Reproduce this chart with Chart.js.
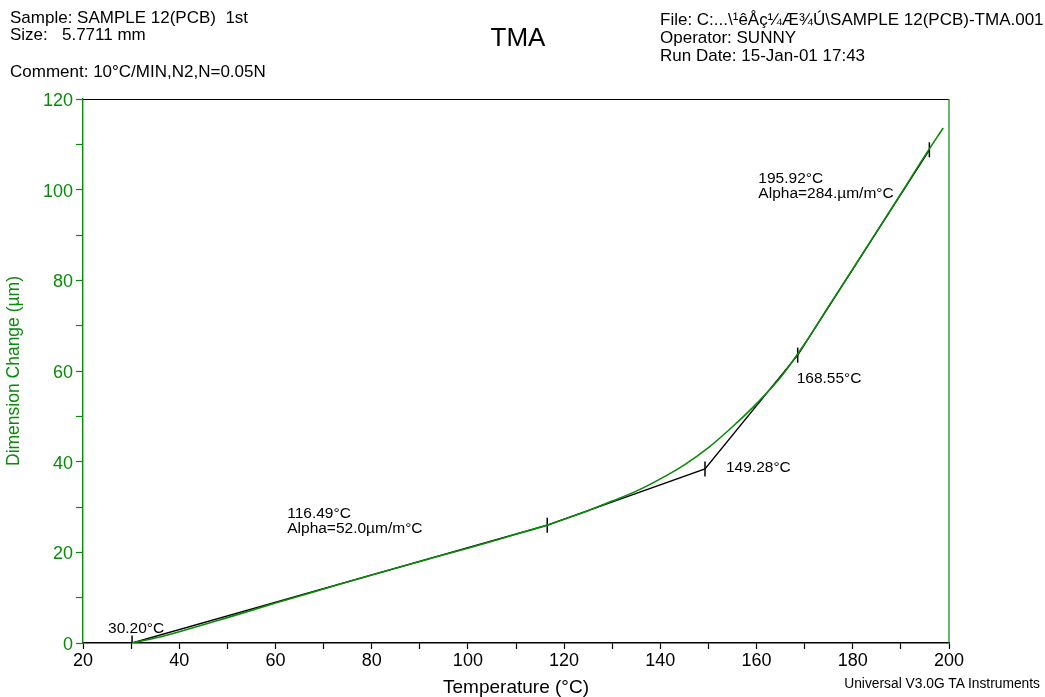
<!DOCTYPE html>
<html>
<head>
<meta charset="utf-8">
<script src="https://cdn.jsdelivr.net/npm/chart.js@4.4.1/dist/chart.umd.min.js"></script>
<style>
  html, body { margin: 0; padding: 0; background: #fff; }
  #wrap { position: relative; width: 1045px; height: 697px; font-family: "Liberation Sans", Arial, sans-serif; }
  #chart { position: absolute; left: 0; top: 0; }
  .hd { position: absolute; font-size: 17px; line-height: 17px; color: #000; white-space: pre; }
  #title { position: absolute; left: 0; width: 1036px; top: 22px; text-align: center; font-size: 26px; }
  #foot { position: absolute; right: 5px; top: 675px; font-size: 13.8px; }
</style>
</head>
<body>
<div id="wrap">
  <canvas id="chart" width="1045" height="697"></canvas>
  <div class="hd" style="left:10px; top:9px;">Sample: SAMPLE 12(PCB)  1st
Size:   5.7711 mm</div>
  <div class="hd" style="left:10px; top:63px;">Comment: 10°C/MIN,N2,N=0.05N</div>
  <div class="hd" style="left:660px; top:11px; line-height:18px;">File: C:...\¹êÅç¼Æ¾Ú\SAMPLE 12(PCB)-TMA.001
Operator: SUNNY
Run Date: 15-Jan-01 17:43</div>
  <div id="title">TMA</div>
  <div class="hd" id="foot">Universal V3.0G TA Instruments</div>
</div>
<script>
// Measured curve (temperature °C, dimension change µm)
const tempC = [30.2, 35, 40, 50, 60, 70, 80, 90, 100, 110, 116.5, 120, 125, 130, 135, 140, 145, 150, 155, 160, 165, 170, 175, 180, 185, 190, 195, 198.8];
const dimUm = [0, 1.1, 2.5, 5.6, 8.8, 11.9, 15.0, 18.0, 20.9, 24.0, 26.0, 27.3, 29.2, 31.3, 33.5, 36.2, 39.3, 43.1, 47.7, 52.8, 58.6, 66.0, 74.3, 82.5, 90.8, 99.1, 107.5, 113.6];

// Analysis construction lines / onset points
const fitT = [30.2, 116.49, 149.28, 168.55, 195.92];
const fitD = [0, 26.0, 38.4, 63.5, 108.8];

// Annotation texts, attached to the fit points above
const noteText = [
  ['30.20°C'],
  ['116.49°C', 'Alpha=52.0µm/m°C'],
  ['149.28°C'],
  ['168.55°C'],
  ['195.92°C', 'Alpha=284.µm/m°C']
];
// pixel offsets of each note from its point
const noteOffset = [[-24, -10], [-260, -7], [21, 3], [-1, 28], [-171, 33]];

const GREEN = '#0a8a0a';
const FONT = '"Liberation Sans", Arial, sans-serif';

const frame = {
  id: 'frame',
  afterDraw(chart) {
    const { ctx, chartArea: a, scales } = chart;
    ctx.save();
    ctx.lineWidth = 1.2;
    ctx.strokeStyle = '#000';
    ctx.beginPath(); ctx.moveTo(a.left, a.top + 0.5); ctx.lineTo(a.right, a.top + 0.5); ctx.stroke();
    ctx.strokeStyle = GREEN;
    ctx.beginPath(); ctx.moveTo(a.right, a.top); ctx.lineTo(a.right, a.bottom); ctx.stroke();
    // notes
    ctx.fillStyle = '#000';
    ctx.font = '15.5px ' + FONT;
    ctx.textAlign = 'left';
    ctx.textBaseline = 'alphabetic';
    noteText.forEach((lines, i) => {
      const px = scales.x.getPixelForValue(fitT[i]) + noteOffset[i][0];
      const py = scales.y.getPixelForValue(fitD[i]) + noteOffset[i][1];
      lines.forEach((t, j) => ctx.fillText(t, px, py + j * 15));
    });
    ctx.restore();
  }
};

new Chart(document.getElementById('chart'), {
  type: 'scatter',
  data: {
    datasets: [
      {
        data: tempC.map((t, i) => ({ x: t, y: dimUm[i] })),
        showLine: true, borderColor: GREEN, borderWidth: 1.6, pointRadius: 0,
        cubicInterpolationMode: 'monotone'
      },
      {
        data: fitT.map((t, i) => ({ x: t, y: fitD[i] })),
        showLine: true, borderColor: '#000', borderWidth: 1.4,
        pointStyle: 'line', rotation: 90, pointRadius: 7.5,
        pointBorderColor: '#000', pointBorderWidth: 1.5
      }
    ]
  },
  options: {
    responsive: false,
    animation: false,
    layout: { padding: { left: 0, right: 96, top: 99, bottom: 0 } },
    plugins: { legend: { display: false }, tooltip: { enabled: false } },
    scales: {
      x: {
        type: 'linear', min: 20, max: 200,
        afterFit(s) { s.height = 54; },
        ticks: {
          stepSize: 10, color: '#000', padding: 1, maxRotation: 0, autoSkip: false,
          font: { size: 18, family: FONT },
          callback: v => (v % 20 === 0 ? v : '')
        },
        grid: { drawOnChartArea: false, color: '#000', tickLength: 6, tickWidth: 1.2 },
        border: { color: '#000', width: 1.4 },
        title: { display: true, text: 'Temperature (°C)', color: '#000', font: { size: 19, family: FONT, lineHeight: 1 }, padding: { top: 0, bottom: 0 } }
      },
      y: {
        type: 'linear', min: 0, max: 120,
        afterFit(s) { s.width = 83; },
        ticks: {
          stepSize: 10, color: GREEN, padding: 3, autoSkip: false, labelOffset: 2,
          font: { size: 18, family: FONT },
          callback: v => (v % 20 === 0 ? v : '')
        },
        grid: { drawOnChartArea: false, color: GREEN, tickLength: 7, tickWidth: 1.2 },
        border: { color: GREEN, width: 1.4 },
        title: { display: true, text: 'Dimension Change (µm)', color: GREEN, font: { size: 17.5, family: FONT }, padding: { top: 4, bottom: 0 } }
      }
    }
  },
  plugins: [frame]
});
</script>
</body>
</html>
